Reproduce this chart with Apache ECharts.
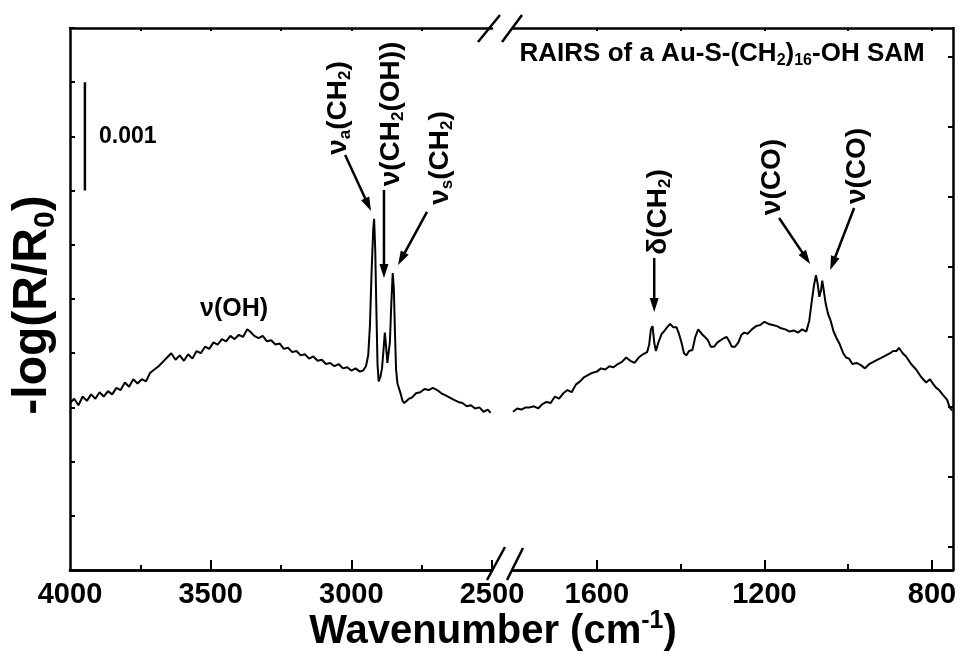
<!DOCTYPE html>
<html><head><meta charset="utf-8">
<script src="https://cdn.jsdelivr.net/npm/echarts@6/dist/echarts.min.js"></script>
<style>html,body{margin:0;padding:0;background:#fff}#c{width:962px;height:656px}</style>
</head><body><div id="c"></div>
<script>
// ---- DATA (wavenumber cm^-1, -log(R/R0) in units of 0.001) ----
const highWnData = [[4000,1.54],[3985,1.58],[3970,1.52],[3955,1.60],[3940,1.56],[3925,1.62],[3910,1.58],[3895,1.64],[3880,1.60],[3865,1.65],[3850,1.62],[3835,1.68],[3820,1.66],[3805,1.73],[3790,1.69],[3775,1.76],[3760,1.72],[3745,1.76],[3730,1.74],[3715,1.82],[3700,1.85],[3685,1.88],[3670,1.92],[3655,1.96],[3640,2.00],[3625,1.94],[3610,1.98],[3595,1.93],[3580,1.99],[3565,1.95],[3550,2.02],[3535,2.00],[3520,2.06],[3505,2.04],[3490,2.10],[3475,2.08],[3460,2.13],[3445,2.11],[3430,2.16],[3415,2.13],[3400,2.17],[3385,2.15],[3370,2.22],[3360,2.20],[3345,2.16],[3330,2.14],[3315,2.16],[3300,2.11],[3285,2.12],[3270,2.08],[3255,2.09],[3240,2.04],[3225,2.05],[3210,2.01],[3195,2.02],[3180,1.98],[3165,1.99],[3150,1.95],[3135,1.97],[3120,1.93],[3105,1.94],[3090,1.90],[3075,1.91],[3060,1.88],[3045,1.90],[3030,1.86],[3015,1.87],[3000,1.84],[2985,1.86],[2970,1.83],[2958,1.84],[2948,1.88],[2940,1.98],[2934,2.25],[2928,2.75],[2922,3.15],[2919,3.24],[2915,2.95],[2911,2.40],[2907,1.90],[2903,1.74],[2897,1.78],[2891,1.86],[2885,2.05],[2881,2.19],[2877,2.08],[2872,1.91],[2868,1.92],[2863,2.10],[2858,2.45],[2853,2.74],[2849,2.60],[2845,2.20],[2841,1.85],[2836,1.72],[2830,1.72],[2824,1.62],[2818,1.56],[2812,1.54],[2805,1.55],[2795,1.58],[2785,1.59],[2770,1.63],[2755,1.64],[2740,1.67],[2725,1.66],[2710,1.68],[2695,1.66],[2680,1.63],[2665,1.61],[2650,1.59],[2635,1.57],[2620,1.55],[2605,1.54],[2590,1.51],[2575,1.52],[2560,1.49],[2545,1.50],[2530,1.46],[2515,1.48],[2505,1.45]];
const lowWnData = [[1800,1.46],[1790,1.49],[1780,1.48],[1770,1.50],[1760,1.50],[1750,1.51],[1740,1.49],[1730,1.53],[1720,1.55],[1710,1.54],[1700,1.60],[1690,1.58],[1680,1.63],[1670,1.66],[1660,1.64],[1650,1.71],[1640,1.74],[1630,1.78],[1620,1.80],[1610,1.82],[1600,1.83],[1590,1.86],[1580,1.85],[1570,1.88],[1560,1.87],[1550,1.90],[1540,1.92],[1530,1.96],[1520,1.93],[1510,1.91],[1500,1.96],[1490,1.99],[1480,2.01],[1475,2.08],[1471,2.22],[1467,2.25],[1463,2.10],[1459,2.02],[1453,2.10],[1445,2.18],[1440,2.20],[1432,2.24],[1425,2.27],[1418,2.24],[1410,2.24],[1404,2.18],[1398,2.10],[1392,2.00],[1386,1.98],[1380,2.02],[1372,2.03],[1365,2.15],[1358,2.22],[1350,2.18],[1342,2.15],[1335,2.12],[1328,2.06],[1320,2.06],[1312,2.10],[1304,2.12],[1296,2.14],[1290,2.15],[1284,2.11],[1278,2.06],[1270,2.06],[1262,2.10],[1255,2.17],[1248,2.19],[1240,2.18],[1230,2.22],[1220,2.25],[1210,2.26],[1200,2.29],[1190,2.27],[1180,2.26],[1170,2.25],[1160,2.23],[1150,2.22],[1140,2.20],[1130,2.21],[1120,2.19],[1110,2.22],[1100,2.20],[1093,2.30],[1087,2.48],[1082,2.62],[1077,2.72],[1073,2.64],[1069,2.52],[1065,2.58],[1062,2.67],[1058,2.57],[1054,2.46],[1048,2.36],[1042,2.30],[1035,2.20],[1028,2.14],[1020,2.08],[1012,2.00],[1005,1.96],[998,1.95],[990,1.90],[980,1.91],[970,1.89],[960,1.86],[950,1.90],[940,1.92],[930,1.94],[920,1.96],[910,1.98],[900,2.00],[893,2.02],[885,2.02],[879,2.05],[870,2.00],[862,1.97],[850,1.90],[838,1.85],[826,1.78],[814,1.73],[805,1.76],[798,1.72],[790,1.68],[783,1.66],[775,1.62],[764,1.57],[758,1.50],[752,1.47]];
const scaleBarData = [[3947,3.5],[3947,4.5]];
const highLabelTicks = [4000,3500,3000,2500];
const highMajorTicks = [3500,3000,2500];
const highMinorTicks = [3750,3250,2750];
const highTopTicks = [3750,3500,3250,3000,2750];
const lowLabelTicks = [1600,1200,800];
const lowMinorTicks = [1400,1000];
const lowTopTicks = [1600,1400,1200,1000,800];
const rightYTicks = [0.21,0.857,1.503,2.149,2.795,3.441,4.087,4.733];
const labels = [
  {panel:0, at:[3417,2.41], rot:false, F:25, align:'center', text:'{n|ν(OH)}'},
  {panel:0, at:[3047,4.262], rot:true, F:28, align:'center', text:'{n|ν}{s|a}{n|(CH}{s|2}{n|)}'},
  {panel:0, at:[2859,4.207], rot:true, F:28, align:'center', text:'{n|ν(CH}{s|2}{n|(OH))}'},
  {panel:0, at:[2685,3.801], rot:true, F:28, align:'center', text:'{n|ν}{s|s}{n|(CH}{s|2}{n|)}'},
  {panel:1, at:[1454,3.303], rot:true, F:28, align:'center', text:'{n|δ(CH}{s|2}{n|)}'},
  {panel:1, at:[1182,3.625], rot:true, F:28, align:'center', text:'{n|ν(CO)}'},
  {panel:1, at:[979,3.727], rot:true, F:28, align:'center', text:'{n|ν(CO)}'},
  {panel:1, at:[1301,4.76], rot:false, F:26, align:'center', text:'{n|RAIRS of a Au-S-(CH}{t|2}{n|)}{t|16}{n|-OH SAM}'},
  {panel:0, at:[3897,4.0], rot:false, F:23, align:'left', text:'{n|0.001}'}
];
const arrows = [
  {panel:0, from:[3022,3.828], to:[2930,3.312]},
  {panel:0, from:[2884,3.506], to:[2884,2.694]},
  {panel:0, from:[2731,3.303], to:[2834,2.814]},
  {panel:1, from:[1463,2.878], to:[1463,2.380]},
  {panel:1, from:[1165,3.247], to:[1091,2.823]},
  {panel:1, from:[986,3.339], to:[1043,2.768]}
];

const FONT = "'Liberation Sans', Arial, Helvetica, sans-serif";
const G0 = {left:70, top:28, width:422, height:542};
const G1 = {left:513, top:28, width:440, height:542};
const txt = {color:'#000', fontFamily:FONT, fontWeight:'bold', fontSize:29};

function xAx(grid, min, max, pos, tickVals, tickLen, labelVals) {
  return {
    type:'value', gridIndex:grid, min:min, max:max, inverse:true, position:pos,
    axisLine:{show:true, onZero:false, lineStyle:{color:'#000', width:2.5}},
    axisTick:{show:true, inside:true, length:tickLen, customValues:tickVals, lineStyle:{color:'#000', width:2}},
    axisLabel: labelVals ? {show:true, customValues:labelVals, margin:10, formatter:function(v){return String(v);}, ...txt} : {show:false},
    splitLine:{show:false}
  };
}

const chart = echarts.init(document.getElementById('c'), null, {renderer:'canvas'});
const option = {
  backgroundColor:'#fff',
  animation:false,
  grid:[G0, G1],
  xAxis:[
    xAx(0, 2500, 4000, 'bottom', highMajorTicks, 10, highLabelTicks),
    xAx(1, 750, 1800, 'bottom', lowLabelTicks, 10, lowLabelTicks),
    xAx(0, 2500, 4000, 'bottom', highMinorTicks, 5, null),
    xAx(1, 750, 1800, 'bottom', lowMinorTicks, 6, null),
    xAx(0, 2500, 4000, 'top', highTopTicks, 3, null),
    xAx(1, 750, 1800, 'top', lowTopTicks, 3, null)
  ],
  yAxis:[
    {type:'value', gridIndex:0, min:0, max:5, interval:0.5, position:'left',
     axisLine:{show:true, onZero:false, lineStyle:{color:'#000', width:2.5}},
     axisTick:{show:true, inside:true, length:5, lineStyle:{color:'#000', width:2}},
     axisLabel:{show:false}, splitLine:{show:false}},
    {type:'value', gridIndex:1, min:0, max:5, position:'right',
     axisLine:{show:true, onZero:false, lineStyle:{color:'#000', width:2.5}},
     axisTick:{show:true, inside:true, length:5, customValues:rightYTicks, lineStyle:{color:'#000', width:2}},
     axisLabel:{show:false}, splitLine:{show:false}}
  ],
  series:[
    {type:'line', xAxisIndex:0, yAxisIndex:0, data:highWnData, showSymbol:false, symbol:'none',
     lineStyle:{color:'#000', width:2}, silent:true},
    {type:'line', xAxisIndex:1, yAxisIndex:1, data:lowWnData, showSymbol:false, symbol:'none',
     lineStyle:{color:'#000', width:2}, silent:true},
    {type:'line', xAxisIndex:0, yAxisIndex:0, data:scaleBarData, showSymbol:false, symbol:'none',
     lineStyle:{color:'#000', width:2.5}, silent:true}
  ]
};
chart.setOption(option);

function rich(F) {
  const S = Math.round(F*0.62);
  const base = {fontWeight:'bold', fontFamily:FONT, fill:'#000'};
  return {
    n:{...base, fontSize:F, lineHeight:Math.round(F*1.15)},
    s:{...base, fontSize:S, lineHeight:8, verticalAlign:'bottom'},
    t:{...base, fontSize:S, lineHeight:1, verticalAlign:'bottom'},
    u:{...base, fontSize:S, lineHeight:Math.round(F*0.65), verticalAlign:'top'}
  };
}
function px(panel, pt) { return chart.convertToPixel({xAxisIndex:panel, yAxisIndex:panel}, pt); }

const g = [];
labels.forEach(function(l){
  const p = px(l.panel, l.at);
  g.push({type:'text', x:p[0], y:p[1], rotation:l.rot ? Math.PI/2 : 0, silent:true,
    style:{text:l.text, rich:rich(l.F), align:l.align, verticalAlign:'middle'}});
});
arrows.forEach(function(a){
  const p0 = px(a.panel, a.from), p1 = px(a.panel, a.to);
  const dx = p1[0]-p0[0], dy = p1[1]-p0[1], L = Math.hypot(dx,dy), ux = dx/L, uy = dy/L;
  const HL = 14, HW = 4.5;
  const bx = p1[0]-ux*HL, by = p1[1]-uy*HL;
  g.push({type:'line', silent:true, shape:{x1:p0[0], y1:p0[1], x2:bx+ux*3, y2:by+uy*3}, style:{stroke:'#000', lineWidth:2.5}});
  g.push({type:'polygon', silent:true, shape:{points:[[p1[0],p1[1]],[bx-uy*HW,by+ux*HW],[bx+uy*HW,by-ux*HW]]}, style:{fill:'#000'}});
});
// axis break marks
const R0 = G0.left + G0.width, TOPY = G0.top, BOTY = G0.top + G0.height;
[[R0-14,TOPY+14,R0+8,TOPY-13],[R0+10,TOPY+14,R0+30,TOPY-13],
 [R0-5,BOTY+10,R0+13,BOTY-23],[R0+15,BOTY+10,R0+31,BOTY-22]].forEach(function(s){
  g.push({type:'line', silent:true, shape:{x1:s[0],y1:s[1],x2:s[2],y2:s[3]}, style:{stroke:'#000', lineWidth:2.5}});
});
// axis titles
g.push({type:'text', x:493, y:632, silent:true,
  style:{text:'{n|Wavenumber (cm}{u|-1}{n|)}', rich:rich(40), align:'center', verticalAlign:'middle'}});
g.push({type:'text', x:33, y:305, rotation:Math.PI/2, silent:true,
  style:{text:'{n|-log(R/R}{s|0}{n|)}', rich:rich(48), align:'center', verticalAlign:'middle'}});
chart.setOption({graphic:g});
</script></body></html>
